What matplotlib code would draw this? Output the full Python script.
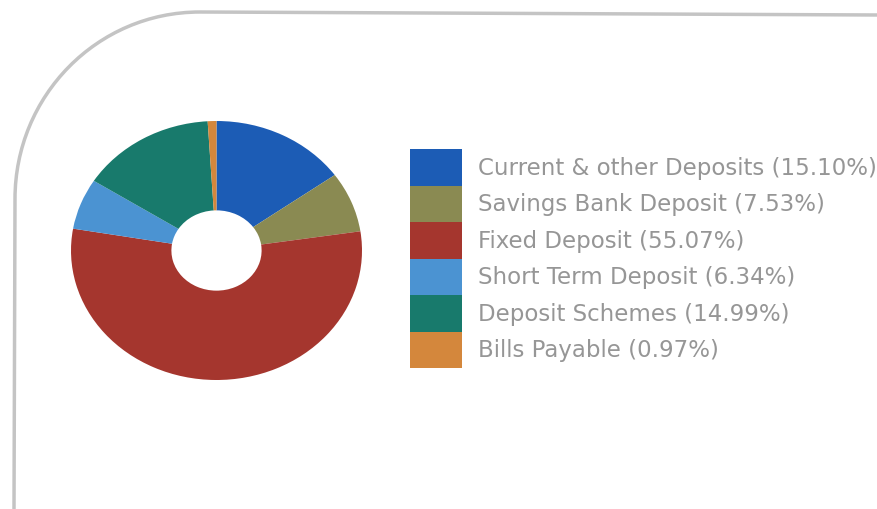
import matplotlib.pyplot as plt
from matplotlib.patches import Rectangle, PathPatch
from matplotlib.path import Path

categories = ["Current & other Deposits", "Savings Bank Deposit", "Fixed Deposit",
              "Short Term Deposit", "Deposit Schemes", "Bills Payable"]
shares = [15.10, 7.53, 55.07, 6.34, 14.99, 0.97]
colors = ["#1c5cb5", "#8a8a52", "#a5362e", "#4b93d2", "#187a6c", "#d4873c"]

W, H = 878, 510
fig = plt.figure(figsize=(W / 100, H / 100), dpi=100)
fig.patch.set_facecolor("white")

def fx(px):
    return px / W

def fy(py):
    return 1 - py / H

# rounded frame (top-left corner of a panel), big corner radius
verts = [(fx(14), fy(510)), (fx(15), fy(200)),
         (fx(15), fy(97)), (fx(97), fy(13)), (fx(200), fy(13)),
         (fx(878), fy(16))]
codes = [Path.MOVETO, Path.LINETO, Path.CURVE4, Path.CURVE4, Path.CURVE4, Path.LINETO]
fig.add_artist(PathPatch(Path(verts, codes), transform=fig.transFigure,
                         fill=False, edgecolor="#c4c4c4", linewidth=2.5))

# donut (slightly elliptical, like the source)
ax = fig.add_axes([fx(71), fy(381), fx(291), 259 / H])
ax.pie(shares, colors=colors, startangle=90, counterclock=False, radius=1,
       wedgeprops=dict(width=0.69, edgecolor="none"))
ax.set_aspect("auto")
ax.set_xlim(-1, 1)
ax.set_ylim(-1, 1)
ax.axis("off")

# legend
x0, top, sw, sh = 410, 150, 52, 36.5
for i, (name, val, c) in enumerate(zip(categories, shares, colors)):
    y = top + i * sh
    fig.add_artist(Rectangle((fx(x0), fy(y + sh)), fx(sw), sh / H,
                             transform=fig.transFigure, facecolor=c, edgecolor="none"))
    fig.text(fx(478), fy(y + sh / 2), f"{name} ({val:.2f}%)", fontsize=16.5,
             color="#969696", va="center", ha="left", family="DejaVu Sans")

fig.savefig("out.png", dpi=100)
